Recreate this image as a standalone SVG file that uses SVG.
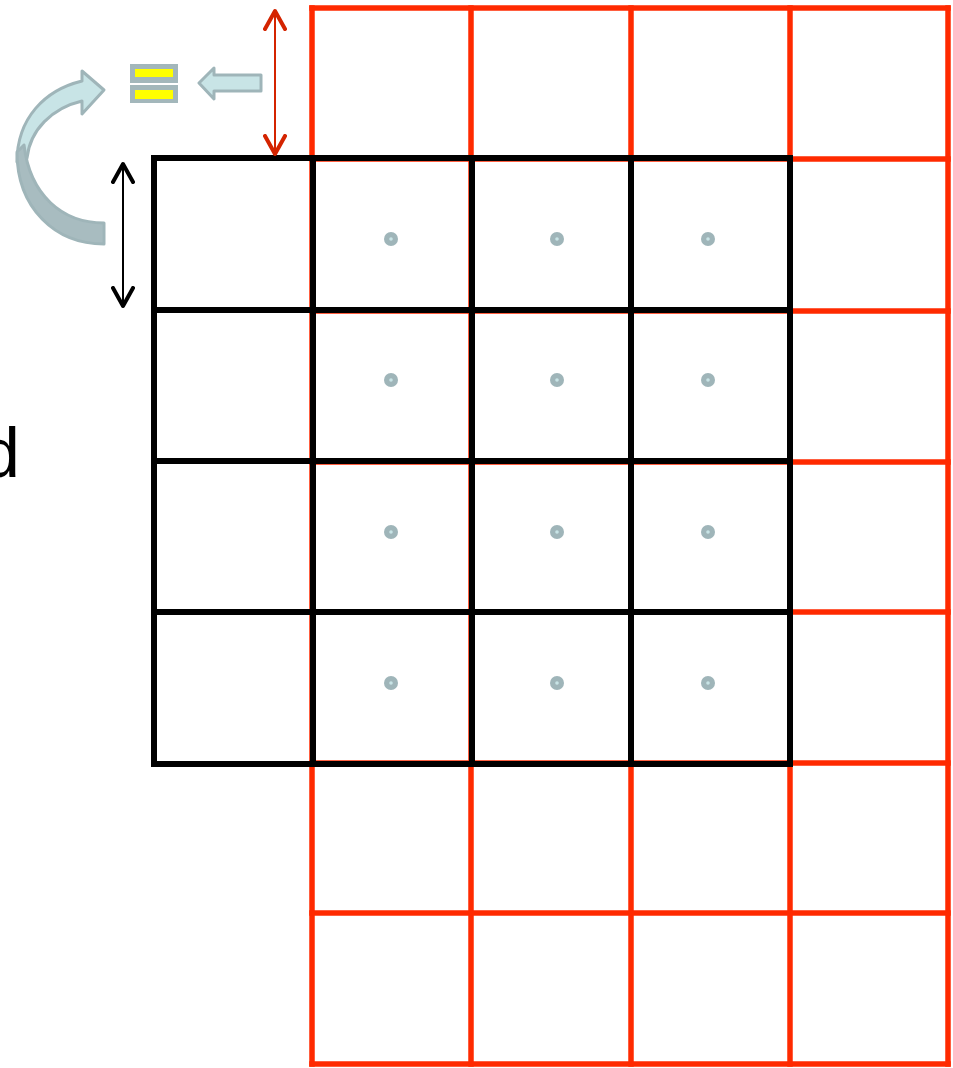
<svg xmlns="http://www.w3.org/2000/svg" width="953" height="1068" viewBox="0 0 953 1068">
<style>
.red{stroke:#ff2a00;stroke-width:5.5;fill:none;stroke-linecap:square}
.blk{stroke:#000;stroke-width:6;fill:none;stroke-linecap:square}
.dot{fill:#9fb5b9}
.dotc{fill:#c8e4e6}
.icon{stroke:#9fb5b9;stroke-width:3;stroke-linejoin:round}
</style>
<defs>
<marker id="chevR" markerUnits="userSpaceOnUse" viewBox="0 0 24 24" refX="20" refY="12" markerWidth="24" markerHeight="24" orient="auto-start-reverse">
<path d="M2,2 L20,12 L2,22" fill="none" stroke="#d42400" stroke-width="4" stroke-linecap="round" stroke-linejoin="round"/>
</marker>
<marker id="chevK" markerUnits="userSpaceOnUse" viewBox="0 0 24 24" refX="20" refY="12" markerWidth="24" markerHeight="24" orient="auto-start-reverse">
<path d="M2,2 L20,12 L2,22" fill="none" stroke="#000" stroke-width="4" stroke-linecap="round" stroke-linejoin="round"/>
</marker>
</defs>
<rect width="953" height="1068" fill="#fff"/>
<g id="red-grid" class="red">
<line x1="312" y1="8" x2="312" y2="1064"/>
<line x1="471" y1="8" x2="471" y2="1064"/>
<line x1="631" y1="8" x2="631" y2="1064"/>
<line x1="790" y1="8" x2="790" y2="1064"/>
<line x1="948" y1="8" x2="948" y2="1064"/>
<line x1="312" y1="8" x2="948" y2="8"/>
<line x1="312" y1="159" x2="948" y2="159"/>
<line x1="312" y1="311" x2="948" y2="311"/>
<line x1="312" y1="462" x2="948" y2="462"/>
<line x1="312" y1="612" x2="948" y2="612"/>
<line x1="312" y1="763" x2="948" y2="763"/>
<line x1="312" y1="913" x2="948" y2="913"/>
<line x1="312" y1="1064" x2="948" y2="1064"/>
</g>
<g id="black-grid" class="blk">
<line x1="154" y1="158" x2="154" y2="764"/>
<line x1="313" y1="158" x2="313" y2="764"/>
<line x1="472" y1="158" x2="472" y2="764"/>
<line x1="631" y1="158" x2="631" y2="764"/>
<line x1="790" y1="158" x2="790" y2="764"/>
<line x1="154" y1="158" x2="790" y2="158"/>
<line x1="154" y1="310" x2="790" y2="310"/>
<line x1="154" y1="461" x2="790" y2="461"/>
<line x1="154" y1="612" x2="790" y2="612"/>
<line x1="154" y1="764" x2="790" y2="764"/>
</g>
<g id="dots">
<g class="dot">
<circle cx="391" cy="239" r="7"/><circle cx="557" cy="239" r="7"/><circle cx="708" cy="239" r="7"/>
<circle cx="391" cy="380" r="7"/><circle cx="557" cy="380" r="7"/><circle cx="708" cy="380" r="7"/>
<circle cx="391" cy="532" r="7"/><circle cx="557" cy="532" r="7"/><circle cx="708" cy="532" r="7"/>
<circle cx="391" cy="683" r="7"/><circle cx="557" cy="683" r="7"/><circle cx="708" cy="683" r="7"/>
</g>
<g class="dotc">
<circle cx="391" cy="239" r="1.8"/><circle cx="557" cy="239" r="1.8"/><circle cx="708" cy="239" r="1.8"/>
<circle cx="391" cy="380" r="1.8"/><circle cx="557" cy="380" r="1.8"/><circle cx="708" cy="380" r="1.8"/>
<circle cx="391" cy="532" r="1.8"/><circle cx="557" cy="532" r="1.8"/><circle cx="708" cy="532" r="1.8"/>
<circle cx="391" cy="683" r="1.8"/><circle cx="557" cy="683" r="1.8"/><circle cx="708" cy="683" r="1.8"/>
</g>
</g>
<g id="connectors">
<line x1="275" y1="11" x2="275" y2="154" stroke="#d42400" stroke-width="2" marker-start="url(#chevR)" marker-end="url(#chevR)"/>
<line x1="123" y1="164" x2="123" y2="306" stroke="#000" stroke-width="2" marker-start="url(#chevK)" marker-end="url(#chevK)"/>
</g>
<g id="equals-icon">
<rect x="130" y="64" width="48" height="19" fill="#a3b7bb"/>
<rect x="130" y="85" width="48" height="18" fill="#a3b7bb"/>
<rect x="135" y="69" width="38" height="8" fill="#ffff00"/>
<rect x="135" y="90" width="38" height="9" fill="#ffff00"/>
</g>
<g id="left-arrow">
<path class="icon" fill="#c8e4e6" d="M261,75 L214,75 L214,68 L199,83 L214,99 L214,91 L261,91 Z"/>
</g>
<g id="curved-arrow">
<path class="icon" fill="#c8e4e6" d="M17,162 C17,118 45,90 82,81 L82,71 L104,90 L82,114 L82,101 C52,108 30,130 27,158 Z"/>
<path class="icon" fill="#a8bcc0" d="M17,152 C17,208 55,244 104,244 L104,223 C62,223 30,195 24,145 Z"/>
</g>
<g id="label">
<text x="-19" y="477" font-family="Liberation Sans, Arial, sans-serif" font-size="70" fill="#000">d</text>
</g>
</svg>
